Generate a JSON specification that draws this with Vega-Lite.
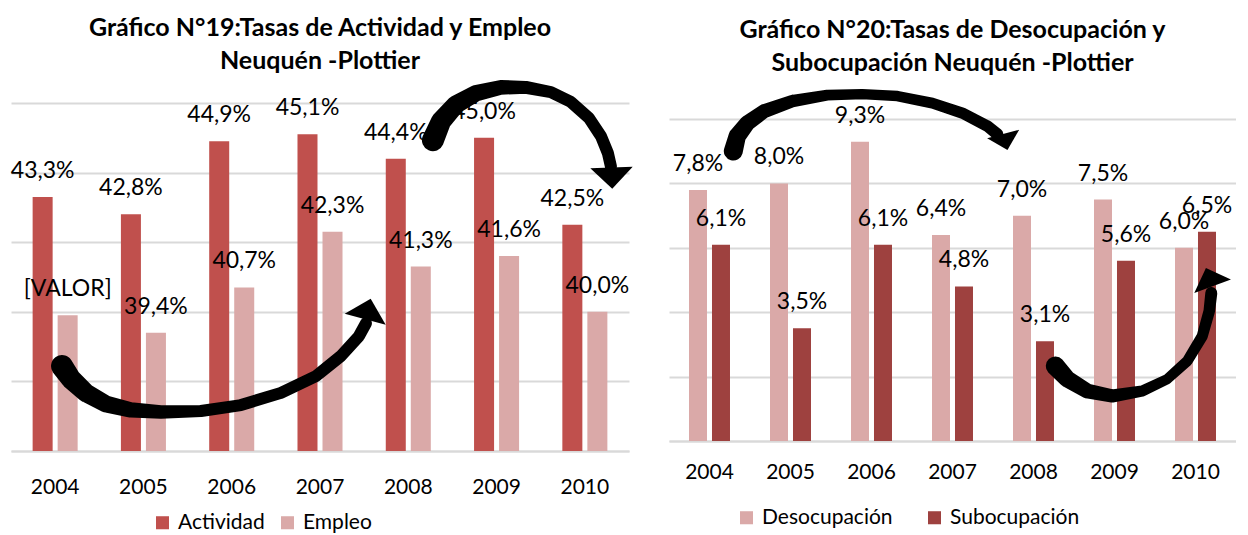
{
  "$schema": "https://vega.github.io/schema/vega-lite/v6.json",
  "padding": {"left": 10, "top": 15, "right": 0, "bottom": 0},
  "spacing": 36,
  "background": "white",
  "config": {
    "view": {"stroke": null},
    "font": "Lato",
    "title": {"font": "Lato", "fontSize": 25, "fontWeight": "bold", "color": "#000000", "lineHeight": 33, "anchor": "middle"},
    "axis": {"labelFont": "Lato", "labelColor": "#000000"},
    "legend": {"labelFont": "Lato", "labelColor": "#000000"}
  },
  "datasets": {
    "left": [
      {"year": "2004", "serie": "Actividad", "value": 43.3, "label": "43,3%"},
      {"year": "2004", "serie": "Empleo", "value": 39.9, "label": "[VALOR]"},
      {"year": "2005", "serie": "Actividad", "value": 42.8, "label": "42,8%"},
      {"year": "2005", "serie": "Empleo", "value": 39.4, "label": "39,4%"},
      {"year": "2006", "serie": "Actividad", "value": 44.9, "label": "44,9%"},
      {"year": "2006", "serie": "Empleo", "value": 40.7, "label": "40,7%"},
      {"year": "2007", "serie": "Actividad", "value": 45.1, "label": "45,1%"},
      {"year": "2007", "serie": "Empleo", "value": 42.3, "label": "42,3%"},
      {"year": "2008", "serie": "Actividad", "value": 44.4, "label": "44,4%"},
      {"year": "2008", "serie": "Empleo", "value": 41.3, "label": "41,3%"},
      {"year": "2009", "serie": "Actividad", "value": 45.0, "label": "45,0%"},
      {"year": "2009", "serie": "Empleo", "value": 41.6, "label": "41,6%"},
      {"year": "2010", "serie": "Actividad", "value": 42.5, "label": "42,5%"},
      {"year": "2010", "serie": "Empleo", "value": 40.0, "label": "40,0%"}
    ],
    "right": [
      {"year": "2004", "serie": "Desocupación", "value": 7.8, "label": "7,8%"},
      {"year": "2004", "serie": "Subocupación", "value": 6.1, "label": "6,1%"},
      {"year": "2005", "serie": "Desocupación", "value": 8.0, "label": "8,0%"},
      {"year": "2005", "serie": "Subocupación", "value": 3.5, "label": "3,5%"},
      {"year": "2006", "serie": "Desocupación", "value": 9.3, "label": "9,3%"},
      {"year": "2006", "serie": "Subocupación", "value": 6.1, "label": "6,1%"},
      {"year": "2007", "serie": "Desocupación", "value": 6.4, "label": "6,4%"},
      {"year": "2007", "serie": "Subocupación", "value": 4.8, "label": "4,8%"},
      {"year": "2008", "serie": "Desocupación", "value": 7.0, "label": "7,0%"},
      {"year": "2008", "serie": "Subocupación", "value": 3.1, "label": "3,1%"},
      {"year": "2009", "serie": "Desocupación", "value": 7.5, "label": "7,5%"},
      {"year": "2009", "serie": "Subocupación", "value": 5.6, "label": "5,6%"},
      {"year": "2010", "serie": "Desocupación", "value": 6.0, "label": "6,0%"},
      {"year": "2010", "serie": "Subocupación", "value": 6.5, "label": "6,5%"}
    ],
    "arrowsL": [
      {"arrow": "A", "t": 0, "u": 0.578, "v": 38.44},
      {"arrow": "A", "t": 0.083, "u": 0.68, "v": 38.07},
      {"arrow": "A", "t": 0.167, "u": 0.849, "v": 37.67},
      {"arrow": "A", "t": 0.25, "u": 1.076, "v": 37.35},
      {"arrow": "A", "t": 0.333, "u": 1.359, "v": 37.18},
      {"arrow": "A", "t": 0.417, "u": 1.699, "v": 37.12},
      {"arrow": "A", "t": 0.5, "u": 2.152, "v": 37.15},
      {"arrow": "A", "t": 0.583, "u": 2.605, "v": 37.32},
      {"arrow": "A", "t": 0.667, "u": 3.058, "v": 37.67},
      {"arrow": "A", "t": 0.75, "u": 3.454, "v": 38.15},
      {"arrow": "A", "t": 0.833, "u": 3.737, "v": 38.73},
      {"arrow": "A", "t": 0.917, "u": 3.941, "v": 39.3},
      {"arrow": "A", "t": 1, "u": 4.02, "v": 39.67},
      {"arrow": "B", "t": 0, "u": 4.779, "v": 44.93},
      {"arrow": "B", "t": 0.091, "u": 4.87, "v": 45.47},
      {"arrow": "B", "t": 0.182, "u": 5.04, "v": 45.96},
      {"arrow": "B", "t": 0.273, "u": 5.266, "v": 46.28},
      {"arrow": "B", "t": 0.364, "u": 5.549, "v": 46.45},
      {"arrow": "B", "t": 0.455, "u": 5.832, "v": 46.45},
      {"arrow": "B", "t": 0.545, "u": 6.115, "v": 46.31},
      {"arrow": "B", "t": 0.636, "u": 6.342, "v": 46.03},
      {"arrow": "B", "t": 0.727, "u": 6.546, "v": 45.57},
      {"arrow": "B", "t": 0.818, "u": 6.682, "v": 45.05},
      {"arrow": "B", "t": 0.909, "u": 6.761, "v": 44.56},
      {"arrow": "B", "t": 1, "u": 6.795, "v": 44.18}
    ],
    "headsL": [
      {"arrow": "A", "u": 4.043, "v": 40.08},
      {"arrow": "B", "u": 6.806, "v": 43.84}
    ],
    "arrowsR": [
      {"arrow": "C", "t": 0, "u": 0.794, "v": 9.006},
      {"arrow": "C", "t": 0.091, "u": 0.843, "v": 9.472},
      {"arrow": "C", "t": 0.182, "u": 0.967, "v": 9.876},
      {"arrow": "C", "t": 0.273, "u": 1.177, "v": 10.248},
      {"arrow": "C", "t": 0.364, "u": 1.522, "v": 10.559},
      {"arrow": "C", "t": 0.455, "u": 1.954, "v": 10.745},
      {"arrow": "C", "t": 0.545, "u": 2.386, "v": 10.776},
      {"arrow": "C", "t": 0.636, "u": 2.819, "v": 10.714},
      {"arrow": "C", "t": 0.727, "u": 3.251, "v": 10.497},
      {"arrow": "C", "t": 0.818, "u": 3.621, "v": 10.186},
      {"arrow": "C", "t": 0.909, "u": 3.93, "v": 9.783},
      {"arrow": "C", "t": 1, "u": 4.053, "v": 9.534},
      {"arrow": "D", "t": 0, "u": 4.769, "v": 2.329},
      {"arrow": "D", "t": 0.111, "u": 4.917, "v": 1.925},
      {"arrow": "D", "t": 0.222, "u": 5.164, "v": 1.553},
      {"arrow": "D", "t": 0.333, "u": 5.473, "v": 1.398},
      {"arrow": "D", "t": 0.444, "u": 5.843, "v": 1.553},
      {"arrow": "D", "t": 0.556, "u": 6.152, "v": 1.925},
      {"arrow": "D", "t": 0.667, "u": 6.399, "v": 2.484},
      {"arrow": "D", "t": 0.778, "u": 6.584, "v": 3.261},
      {"arrow": "D", "t": 0.889, "u": 6.67, "v": 4.037},
      {"arrow": "D", "t": 1, "u": 6.695, "v": 4.596}
    ],
    "headsR": [
      {"arrow": "C", "u": 4.152, "v": 9.286},
      {"arrow": "D", "u": 6.67, "v": 5.093}
    ]
  },
  "resolve": {"scale": {"x": "independent", "y": "independent", "color": "independent", "xOffset": "independent", "size": "independent"}},
  "hconcat": [
    {
      "width": 618,
      "height": 348,
      "title": {"text": ["Gráfico N°19:Tasas de Actividad y Empleo", "Neuquén -Plottier"], "offset": 6},
      "resolve": {"scale": {"x": "independent", "size": "independent"}},
      "layer": [
        {
          "layer": [
            {
              "data": {"name": "left"},
              "mark": {"type": "bar"},
              "encoding": {
                "x": {"field": "year", "type": "nominal", "scale": {"paddingInner": 0.49, "paddingOuter": 0.245}, "axis": {"title": null, "labelAngle": 0, "labelFontSize": 21, "labelPadding": 25, "ticks": false, "domainColor": "#d9d9d9", "domainWidth": 2}},
                "xOffset": {"field": "serie", "type": "nominal", "scale": {"domain": ["Actividad", "Empleo"], "paddingInner": 0.2, "paddingOuter": 0}},
                "y": {"field": "value", "type": "quantitative", "stack": null, "scale": {"domain": [36, 46], "zero": false, "nice": false}, "axis": {"title": null, "labels": false, "ticks": false, "domain": false, "grid": true, "gridColor": "#d9d9d9", "gridWidth": 2, "values": [36, 38, 40, 42, 44, 46]}},
                "color": {"field": "serie", "type": "nominal", "scale": {"domain": ["Actividad", "Empleo"], "range": ["#C0504D", "#DAA9A8"]}, "legend": {"orient": "none", "legendX": 141, "legendY": 409, "direction": "horizontal", "title": null, "symbolType": "square", "symbolSize": 170, "symbolStrokeWidth": 0, "labelFontSize": 21, "labelOffset": 5, "columnPadding": 12}}
              }
            },
            {
              "data": {"name": "left"},
              "mark": {"type": "text", "fontSize": 23, "baseline": "middle", "dy": -26, "color": "#000000"},
              "encoding": {
                "x": {"field": "year", "type": "nominal"},
                "xOffset": {"field": "serie", "type": "nominal"},
                "y": {"field": "value", "type": "quantitative", "stack": null, "scale": {"domain": [36, 46], "zero": false, "nice": false}},
                "text": {"field": "label"}
              }
            }
          ]
        },
        {
          "layer": [
            {
              "data": {"name": "arrowsL"},
              "mark": {"type": "trail", "color": "#000000"},
              "encoding": {
                "x": {"field": "u", "type": "quantitative", "scale": {"domain": [0, 7], "nice": false, "zero": false}, "axis": null},
                "y": {"field": "v", "type": "quantitative", "scale": {"domain": [36, 46], "zero": false, "nice": false}},
                "size": {"field": "t", "type": "quantitative", "scale": {"domain": [0, 0.5, 1], "range": [22, 12, 12]}, "legend": null},
                "detail": {"field": "arrow"},
                "order": {"field": "t"}
              }
            },
            {
              "data": {"name": "headsL"},
              "transform": [{"filter": "datum.arrow == 'A'"}],
              "mark": {"type": "point", "shape": "M-1,0.5L0,-0.5L1,0.5Z", "filled": true, "opacity": 1, "color": "#000000", "size": 1800, "angle": 15},
              "encoding": {
                "x": {"field": "u", "type": "quantitative", "scale": {"domain": [0, 7], "nice": false, "zero": false}, "axis": null},
                "y": {"field": "v", "type": "quantitative", "scale": {"domain": [36, 46], "zero": false, "nice": false}}
              }
            },
            {
              "data": {"name": "headsL"},
              "transform": [{"filter": "datum.arrow == 'B'"}],
              "mark": {"type": "point", "shape": "M-1,0.5L0,-0.5L1,0.5Z", "filled": true, "opacity": 1, "color": "#000000", "size": 1800, "angle": 178},
              "encoding": {
                "x": {"field": "u", "type": "quantitative", "scale": {"domain": [0, 7], "nice": false, "zero": false}, "axis": null},
                "y": {"field": "v", "type": "quantitative", "scale": {"domain": [36, 46], "zero": false, "nice": false}}
              }
            }
          ]
        }
      ]
    },
    {
      "width": 567,
      "height": 338,
      "title": {"text": ["Gráfico N°20:Tasas de Desocupación y", "Subocupación Neuquén -Plottier"], "offset": 13},
      "resolve": {"scale": {"x": "independent", "size": "independent"}},
      "layer": [
        {
          "layer": [
            {
              "data": {"name": "right"},
              "mark": {"type": "bar"},
              "encoding": {
                "x": {"field": "year", "type": "nominal", "scale": {"paddingInner": 0.494, "paddingOuter": 0.247}, "axis": {"title": null, "labelAngle": 0, "labelFontSize": 21, "labelPadding": 20, "ticks": false, "domainColor": "#d9d9d9", "domainWidth": 2}},
                "xOffset": {"field": "serie", "type": "nominal", "scale": {"domain": ["Desocupación", "Subocupación"], "paddingInner": 0.217, "paddingOuter": 0}},
                "y": {"field": "value", "type": "quantitative", "stack": null, "scale": {"domain": [0, 10.5], "nice": false}, "axis": {"title": null, "labels": false, "ticks": false, "domain": false, "grid": true, "gridColor": "#d9d9d9", "gridWidth": 2, "values": [0, 2, 4, 6, 8, 10]}},
                "color": {"field": "serie", "type": "nominal", "scale": {"domain": ["Desocupación", "Subocupación"], "range": ["#DAA9A8", "#9E413F"]}, "legend": {"orient": "none", "legendX": 67, "legendY": 404, "direction": "horizontal", "title": null, "symbolType": "square", "symbolSize": 170, "symbolStrokeWidth": 0, "labelFontSize": 21, "labelOffset": 5, "columnPadding": 31}}
              }
            },
            {
              "data": {"name": "right"},
              "mark": {"type": "text", "fontSize": 23, "baseline": "middle", "dy": -26, "color": "#000000"},
              "encoding": {
                "x": {"field": "year", "type": "nominal"},
                "xOffset": {"field": "serie", "type": "nominal"},
                "y": {"field": "value", "type": "quantitative", "stack": null, "scale": {"domain": [0, 10.5], "nice": false}},
                "text": {"field": "label"}
              }
            }
          ]
        },
        {
          "layer": [
            {
              "data": {"name": "arrowsR"},
              "mark": {"type": "trail", "color": "#000000"},
              "encoding": {
                "x": {"field": "u", "type": "quantitative", "scale": {"domain": [0, 7], "nice": false, "zero": false}, "axis": null},
                "y": {"field": "v", "type": "quantitative", "scale": {"domain": [0, 10.5], "nice": false}},
                "size": {"field": "t", "type": "quantitative", "scale": {"domain": [0, 0.5, 1], "range": [19, 10, 12]}, "legend": null},
                "detail": {"field": "arrow"},
                "order": {"field": "t"}
              }
            },
            {
              "data": {"name": "headsR"},
              "transform": [{"filter": "datum.arrow == 'C'"}],
              "mark": {"type": "point", "shape": "M-1,0.5L0,-0.5L1,0.5Z", "filled": true, "opacity": 1, "color": "#000000", "size": 1100, "angle": 165},
              "encoding": {
                "x": {"field": "u", "type": "quantitative", "scale": {"domain": [0, 7], "nice": false, "zero": false}, "axis": null},
                "y": {"field": "v", "type": "quantitative", "scale": {"domain": [0, 10.5], "nice": false}}
              }
            },
            {
              "data": {"name": "headsR"},
              "transform": [{"filter": "datum.arrow == 'D'"}],
              "mark": {"type": "point", "shape": "M-1,0.5L0,-0.5L1,0.5Z", "filled": true, "opacity": 1, "color": "#000000", "size": 1521, "angle": 340},
              "encoding": {
                "x": {"field": "u", "type": "quantitative", "scale": {"domain": [0, 7], "nice": false, "zero": false}, "axis": null},
                "y": {"field": "v", "type": "quantitative", "scale": {"domain": [0, 10.5], "nice": false}}
              }
            }
          ]
        }
      ]
    }
  ]
}
